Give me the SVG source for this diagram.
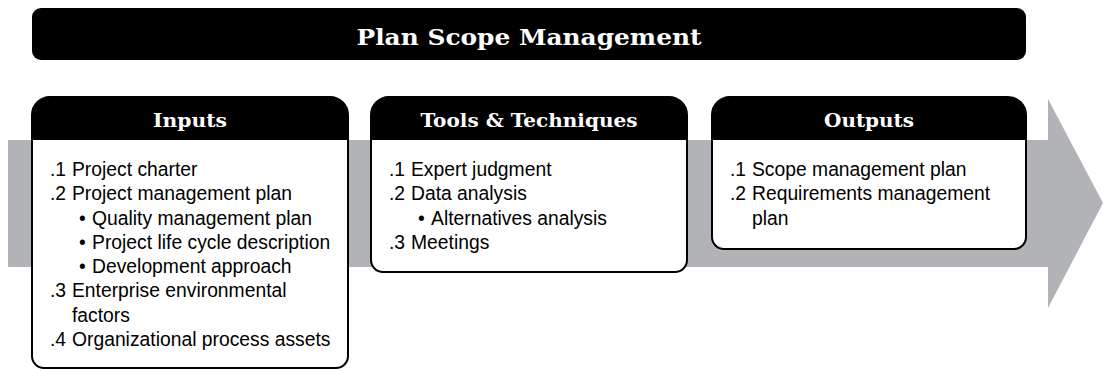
<svg xmlns="http://www.w3.org/2000/svg" width="1103" height="369" viewBox="0 0 1103 369">
<style>
.hdr{fill:#000}
.box{fill:#fff;stroke:#000;stroke-width:2}
.ttl{font-family:"DejaVu Serif",serif;font-weight:bold;fill:#fff;text-anchor:middle}
.t{font-family:"Liberation Sans",Arial,sans-serif;font-size:21px;fill:#000}
</style>
<rect width="1103" height="369" fill="#fff"/>
<g id="flow-arrow">
<polygon points="8,140 1048,140 1048,99 1103,203 1048,308 1048,267 8,267" fill="#b1b3b6"/>
</g>
<g id="title">
<rect x="32" y="8" width="994" height="52" rx="9" fill="#000"/>
<text class="ttl" x="529" y="45" font-size="23" textLength="345" lengthAdjust="spacingAndGlyphs">Plan Scope Management</text>
</g>
<g id="inputs">
<path class="box" d="M32,140 V115 A18,18 0 0 1 50,97 H330 A18,18 0 0 1 348,115 V356 A12,12 0 0 1 336,368 H44 A12,12 0 0 1 32,356 Z"/>
<path class="hdr" d="M32,140 V115 A18,18 0 0 1 50,97 H330 A18,18 0 0 1 348,115 V140 Z"/>
<text class="ttl" x="190" y="127" font-size="18" textLength="74" lengthAdjust="spacingAndGlyphs">Inputs</text>
<g transform="translate(50,0) scale(0.92,1)">
<text class="t" x="0" y="176">.1</text><text class="t" x="23.9" y="176">Project charter</text>
<text class="t" x="0" y="200.3">.2</text><text class="t" x="23.9" y="200.3">Project management plan</text>
<text class="t" x="31.5" y="224.6">•</text><text class="t" x="45.7" y="224.6">Quality management plan</text>
<text class="t" x="31.5" y="248.9">•</text><text class="t" x="45.7" y="248.9">Project life cycle description</text>
<text class="t" x="31.5" y="273.2">•</text><text class="t" x="45.7" y="273.2">Development approach</text>
<text class="t" x="0" y="297.5">.3</text><text class="t" x="23.9" y="297.5">Enterprise environmental</text>
<text class="t" x="23.9" y="321.8">factors</text>
<text class="t" x="0" y="346">.4</text><text class="t" x="23.9" y="346">Organizational process assets</text>
</g>
</g>
<g id="tools">
<path class="box" d="M371,140 V115 A18,18 0 0 1 389,97 H669 A18,18 0 0 1 687,115 V260 A12,12 0 0 1 675,272 H383 A12,12 0 0 1 371,260 Z"/>
<path class="hdr" d="M371,140 V115 A18,18 0 0 1 389,97 H669 A18,18 0 0 1 687,115 V140 Z"/>
<text class="ttl" x="529" y="127" font-size="18" textLength="217" lengthAdjust="spacingAndGlyphs">Tools &amp; Techniques</text>
<g transform="translate(389,0) scale(0.92,1)">
<text class="t" x="0" y="176">.1</text><text class="t" x="23.9" y="176">Expert judgment</text>
<text class="t" x="0" y="200.3">.2</text><text class="t" x="23.9" y="200.3">Data analysis</text>
<text class="t" x="31.5" y="224.6">•</text><text class="t" x="45.7" y="224.6">Alternatives analysis</text>
<text class="t" x="0" y="248.9">.3</text><text class="t" x="23.9" y="248.9">Meetings</text>
</g>
</g>
<g id="outputs">
<path class="box" d="M712,140 V115 A18,18 0 0 1 730,97 H1008 A18,18 0 0 1 1026,115 V237 A12,12 0 0 1 1014,249 H724 A12,12 0 0 1 712,237 Z"/>
<path class="hdr" d="M712,140 V115 A18,18 0 0 1 730,97 H1008 A18,18 0 0 1 1026,115 V140 Z"/>
<text class="ttl" x="869" y="127" font-size="18" textLength="90" lengthAdjust="spacingAndGlyphs">Outputs</text>
<g transform="translate(730,0) scale(0.92,1)">
<text class="t" x="0" y="176">.1</text><text class="t" x="23.9" y="176">Scope management plan</text>
<text class="t" x="0" y="200.3">.2</text><text class="t" x="23.9" y="200.3">Requirements management</text>
<text class="t" x="23.9" y="224.6">plan</text>
</g>
</g>
<g id="connectors"></g>
</svg>
